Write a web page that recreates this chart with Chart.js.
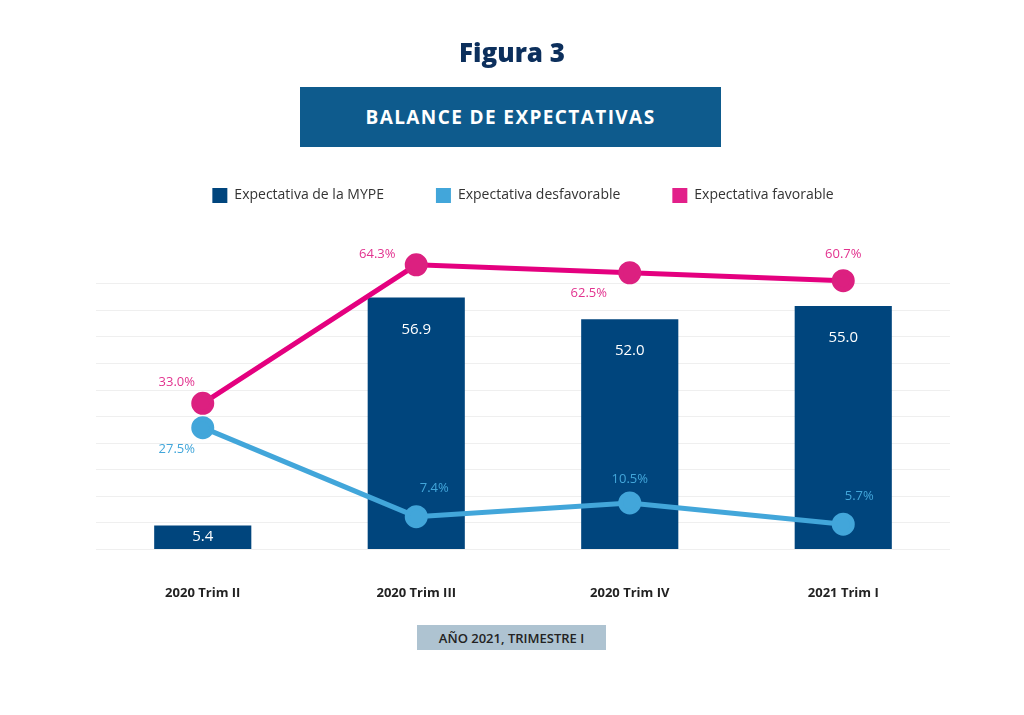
<!DOCTYPE html>
<html>
<head>
<meta charset="utf-8">
<script src="https://cdn.jsdelivr.net/npm/chart.js@4.4.0/dist/chart.umd.min.js"></script>
<style>
  body { margin: 0; width: 1024px; height: 715px; background: #fff; position: relative; overflow: hidden; font-family: "Open Sans", sans-serif; }
  #title { position: absolute; top: 34px; left: 0; width: 1024px; text-align: center; font-size: 26px; font-weight: 800; color: #0c2f5c; }
  #banner { position: absolute; left: 300px; top: 87px; width: 421px; height: 60px; background: #0e5b8d; color: #fff; font-size: 19px; font-weight: 700; letter-spacing: 1.4px; display: flex; align-items: center; justify-content: center; }
  #footer { position: absolute; left: 417px; top: 625px; width: 189px; height: 25px; background: #aec3d1; color: #222; font-size: 13px; font-weight: 600; display: flex; align-items: center; justify-content: center; }
  #chart { position: absolute; left: 0; top: 0; }
</style>
</head>
<body>
<canvas id="chart" width="1024" height="715"></canvas>
<div id="title">Figura 3</div>
<div id="banner">BALANCE DE EXPECTATIVAS</div>
<div id="footer">AÑO 2021, TRIMESTRE I</div>
<script>
const categories = ["2020 Trim II", "2020 Trim III", "2020 Trim IV", "2021 Trim I"];
const mype = [5.4, 56.9, 52.0, 55.0];
const desfavorable = [27.5, 7.4, 10.5, 5.7];
const favorable = [33.0, 64.3, 62.5, 60.7];
const yTicks = { min: 0, max: 76, step: 6, lastGrid: 60 };

const navy = "#00457d";
const lightBlue = "#42a6da";
const pink = "#e4007f";

// label offsets relative to each point (dx, dy)
const desfOffsets = [[-26, 22], [18, -28], [0, -24], [16, -28]];
const favOffsets = [[-26, -21], [-39, -10], [-41, 21], [0, -26]];

const valueLabels = {
  id: "valueLabels",
  afterDatasetsDraw(chart) {
    const ctx = chart.ctx;
    ctx.save();
    ctx.textAlign = "center";
    ctx.textBaseline = "middle";
    chart.data.datasets.forEach((ds, i) => {
      const meta = chart.getDatasetMeta(i);
      meta.data.forEach((el, j) => {
        const v = ds.data[j];
        if (ds.type === "bar") {
          ctx.font = "15px 'Open Sans'";
          ctx.fillStyle = "#ffffff";
          const y = Math.min(el.y + 32, (el.y + el.base) / 2);
          ctx.fillText(v.toFixed(1), el.x, y);
        } else {
          const off = ds.labelOffsets[j];
          ctx.font = "13px 'Open Sans'";
          ctx.fillStyle = ds.labelColor;
          ctx.fillText(v.toFixed(1) + "%", el.x + off[0], el.y + off[1]);
        }
      });
    });
    ctx.restore();
  }
};

new Chart(document.getElementById("chart").getContext("2d"), {
  data: {
    labels: categories,
    datasets: [
      {
        type: "bar",
        label: "Expectativa de la MYPE",
        data: mype,
        backgroundColor: navy,
        barPercentage: 0.455,
        categoryPercentage: 1,
        order: 3,
      },
      {
        type: "line",
        label: "Expectativa desfavorable",
        data: desfavorable,
        borderColor: lightBlue,
        backgroundColor: lightBlue,
        pointBackgroundColor: lightBlue,
        pointBorderColor: lightBlue,
        borderWidth: 5,
        pointRadius: 9,
        tension: 0,
        clip: false,
        order: 2,
        labelOffsets: desfOffsets,
        labelColor: lightBlue,
      },
      {
        type: "line",
        label: "Expectativa favorable",
        data: favorable,
        borderColor: pink,
        backgroundColor: "#dc2080",
        pointBackgroundColor: "#dc2080",
        pointBorderColor: "#dc2080",
        borderWidth: 5,
        pointRadius: 9,
        tension: 0,
        clip: false,
        order: 1,
        labelOffsets: favOffsets,
        labelColor: "#e2338f",
      },
    ],
  },
  options: {
    responsive: false,
    animation: false,
    layout: { padding: { top: 136, left: 96, right: 74, bottom: 78 } },
    plugins: {
      tooltip: { enabled: false },
      legend: {
        position: "top",
        labels: {
          boxWidth: 15,
          boxHeight: 15,
          padding: 52,
          color: "#333",
          font: { family: "Open Sans", size: 14 },
          generateLabels: (chart) =>
            chart.data.datasets.map((ds, i) => ({
              text: ds.label,
              fillStyle: [navy, lightBlue, "#e2208a"][i],
              strokeStyle: [navy, lightBlue, "#e2208a"][i],
              lineWidth: 0,
              fontColor: "#333",
              datasetIndex: i,
            })),
        },
      },
    },
    scales: {
      x: {
        grid: { display: false, drawTicks: false },
        border: { display: false },
        ticks: {
          padding: 36,
          color: "#222",
          font: { family: "Open Sans", size: 13, weight: "bold" },
        },
      },
      y: {
        min: yTicks.min,
        max: yTicks.max,
        border: { display: false },
        grid: {
          drawTicks: false,
          color: (c) => (c.tick && c.tick.value <= yTicks.lastGrid ? "#efefef" : "transparent"),
        },
        ticks: { display: false, stepSize: yTicks.step },
      },
    },
  },
  plugins: [valueLabels],
});
</script>
</body>
</html>
